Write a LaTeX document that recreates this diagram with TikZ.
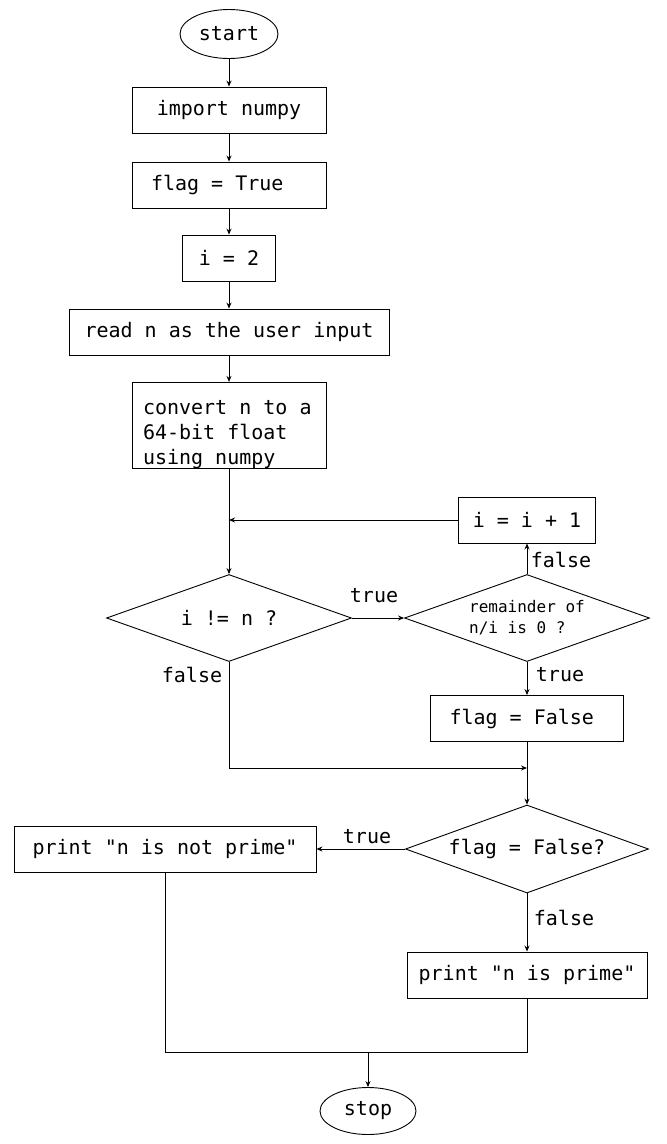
\documentclass[tikz,border=0pt]{standalone}
\usepackage{fontspec}
\setmonofont{DejaVu Sans Mono}
\usetikzlibrary{shapes.geometric,arrows.meta}

\tikzset{
  box/.style={draw, rectangle, minimum height=46pt, inner sep=0pt},
  scelta/.style={draw, diamond, aspect=2.8, minimum width=245pt, minimum height=87pt, inner sep=0pt},
  capo/.style={draw, ellipse, inner sep=1pt},
  freccia/.style={-{Stealth[length=6pt,width=5pt]}},
  etich/.style={inner sep=0pt},
}

\begin{document}
\begin{tikzpicture}[x=1pt, y=-1pt, line width=0.9pt, font=\ttfamily\fontsize{20}{25}\selectfont]
        \useasboundingbox (0,0) rectangle (667,1144);

         % Disegna i blocchi
        \node[capo, minimum width=98pt, minimum height=49pt] (start) at (229,34) {start};
        \node[box, minimum width=194pt] (imp) at (229,110) {import numpy};
        \node[box, text width=156pt, inner xsep=19pt, align=flush left] (flagT) at (229,185) {flag = True};
        \node[box, minimum width=93pt] (idue) at (229,258) {i = 2};
        \node[box, minimum width=320pt] (leggi) at (229,332) {read n as the user input};
        \node[box, text width=172pt, inner xsep=11pt, align=flush left] (conv) at (229,425.5) {\rule{0pt}{32pt}convert n to a\\64-bit float\\using numpy};
        \node[box, minimum width=137pt] (incr) at (527,520) {i = i + 1};
        \node[scelta] (ciclo) at (229,618) {i != n ?};
        \node[scelta, font=\ttfamily\fontsize{16}{21}\selectfont, align=left] (resto) at (527,618) {remainder of\\n/i is 0 ?};
        \node[box, text width=155pt, inner xsep=19pt, align=flush left] (flagF) at (527,718.5) {flag = False};
        \node[scelta, minimum width=243pt, minimum height=88pt] (test) at (527,849) {flag = False?};
        \node[box, minimum width=302pt] (nonprimo) at (165,849) {print "n is not prime"};
        \node[box, minimum width=240pt] (primo) at (527,975) {print "n is prime"};
        \node[capo, minimum width=96pt, minimum height=47pt] (stop) at (368,1111) {stop};

         % Etichette
        \node[etich] (lv1) at (374,596) {true};
        \node[etich] (lf1) at (192,675) {false};
        \node[etich] (lv2) at (560,675) {true};
        \node[etich] (lf2) at (561,560) {false};
        \node[etich] (lv3) at (367,837) {true};
        \node[etich] (lf3) at (564,918) {false};

         % Collegamenti
        \draw[freccia] (start) -- (imp);
        \draw[freccia] (imp) -- (flagT);
        \draw[freccia] (flagT) -- (idue);
        \draw[freccia] (idue) -- (leggi);
        \draw[freccia] (leggi) -- (conv);
        \draw[freccia] (conv) -- (ciclo);
        \coordinate (rientro) at (229,520);
        \draw[freccia] (incr) -- (rientro);
        \draw[freccia] (ciclo) -- (resto);
        \draw[freccia] (resto) -- (incr);
        \draw[freccia] (resto) -- (flagF);
        \coordinate (unione) at (527,768);
        \draw[freccia] (ciclo.south) |- (unione);
        \draw[freccia] (flagF) -- (test);
        \draw[freccia] (test) -- (nonprimo);
        \draw[freccia] (test) -- (primo);
        \coordinate (fondo) at (368,1052);
        \draw (nonprimo.south) |- (fondo) -| (primo.south);
        \draw[freccia] (fondo) -- (stop);
    \end{tikzpicture}
\end{document}
